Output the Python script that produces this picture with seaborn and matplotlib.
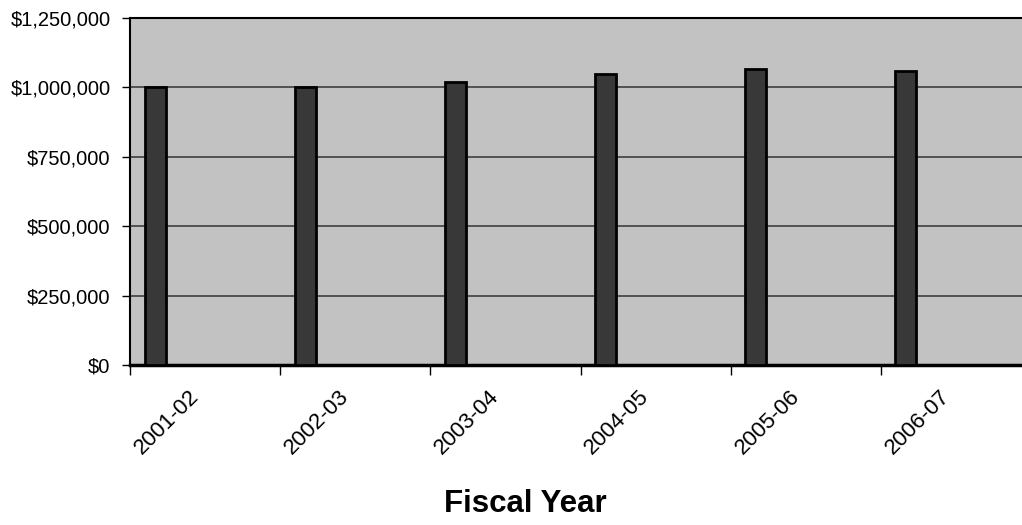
import matplotlib
matplotlib.use("Agg")
import matplotlib.pyplot as plt
import numpy as np
import pandas as pd
import seaborn as sns
from matplotlib.ticker import FuncFormatter

# Annual amounts by fiscal year
fiscal_years = ["2001-02", "2002-03", "2003-04", "2004-05", "2005-06", "2006-07"]
amounts = [1000000, 1000000, 1020000, 1050000, 1066000, 1060000]
y_ticks = [0, 250000, 500000, 750000, 1000000, 1250000]

sns.set_theme(style="ticks")
plt.rcParams["font.family"] = ["Liberation Sans", "DejaVu Sans"]
plt.rcParams["text.color"] = "black"
plt.rcParams["xtick.labelcolor"] = "black"
plt.rcParams["ytick.labelcolor"] = "black"
plt.rcParams["axes.labelcolor"] = "black"

fig = plt.figure(figsize=(10.22, 5.25), dpi=100)
fig.patch.set_facecolor("white")
ax = fig.add_axes([130 / 1022, 1 - 365 / 525, 901 / 1022, 347 / 525])
ax.set_facecolor("#c2c2c2")

df = pd.DataFrame({"Fiscal Year": fiscal_years, "Amount": amounts})
sns.barplot(data=df, x="Fiscal Year", y="Amount", color="#383838",
            saturation=1, width=0.14, edgecolor="black", linewidth=2,
            ax=ax, zorder=3)

# Each category occupies one slot; bars sit toward the left of their slot
shift = 1 / 6
n = len(fiscal_years)
ax.set_xlim(-shift, n - shift)
ax.set_xticks(np.arange(n + 1) - shift)
ax.set_xticklabels([""] * (n + 1))
ax.set_xticks(np.arange(n) + 0.27, minor=True)
ax.set_xticklabels(fiscal_years, minor=True, rotation=45, ha="right",
                   va="center", rotation_mode="anchor", fontsize=16)
ax.tick_params(axis="x", which="major", direction="out", length=7,
               width=1, color="black")
ax.tick_params(axis="x", which="minor", length=0, pad=20.5)

ax.set_ylim(0, 1250000)
ax.set_yticks(y_ticks)
ax.yaxis.set_major_formatter(FuncFormatter(lambda v, _: f"${v:,.0f}"))
ax.tick_params(axis="y", direction="out", length=6, width=1,
               color="black", pad=8, labelsize=14.5)

ax.yaxis.grid(True, color="#333333", linewidth=1.1)
ax.set_axisbelow(True)

for side in ["left", "top"]:
    ax.spines[side].set_color("black")
    ax.spines[side].set_linewidth(1.5)
ax.spines["bottom"].set_color("black")
ax.spines["bottom"].set_linewidth(2.5)
ax.spines["right"].set_visible(False)

ax.set_ylabel("")
ax.set_xlabel("Fiscal Year", fontsize=22.5, fontweight="bold")
ax.xaxis.set_label_coords((525 - 130) / 901, -0.357)

fig.savefig("out.png", dpi=100, facecolor="white")
